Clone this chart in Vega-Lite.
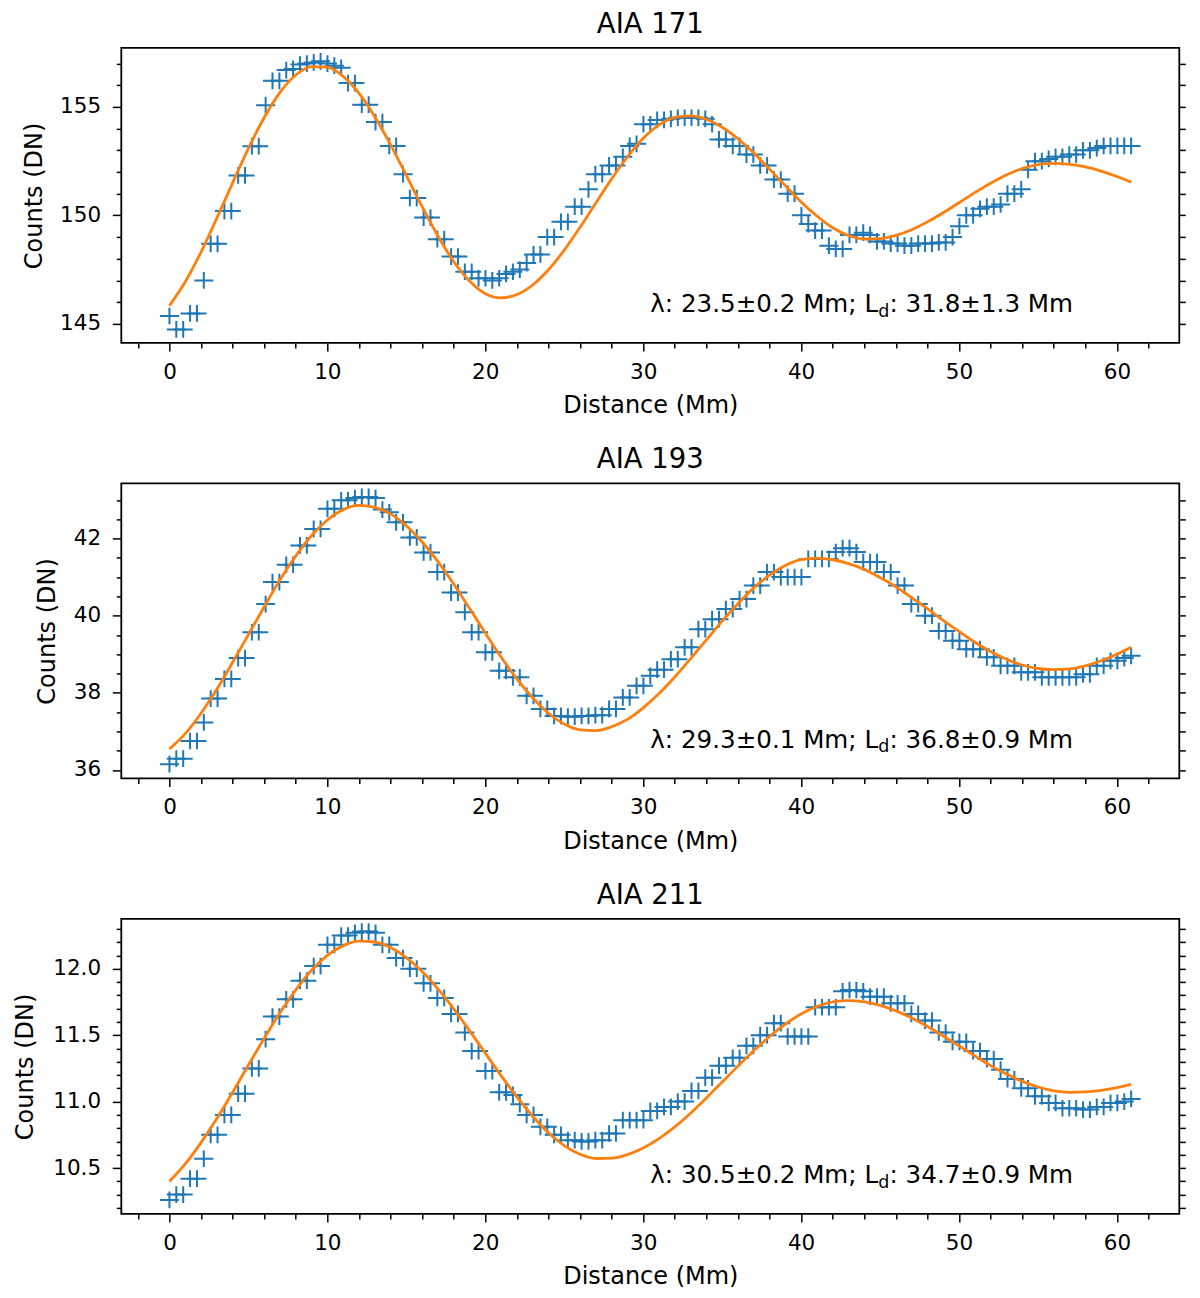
{
  "$schema": "https://vega.github.io/schema/vega-lite/v6.json",
  "padding": {"left": 12.3, "top": 8.9, "right": 10, "bottom": 10},
  "background": "white",
  "config": {
    "view": {"stroke": "black", "strokeWidth": 1.8},
    "font": "DejaVu Sans",
    "axis": {
      "grid": false, "domain": false, "tickColor": "black", "tickWidth": 1.5,
      "labelColor": "black", "titleColor": "black", "labelFont": "DejaVu Sans", "titleFont": "DejaVu Sans",
      "labelFontSize": 21.5, "titleFontSize": 24, "titleFontWeight": "normal", "labelOverlap": false, "labelFlush": false
    },
    "title": {"font": "DejaVu Sans", "fontSize": 27.5, "fontWeight": "normal", "color": "black", "frame": "group", "anchor": "middle", "baseline": "alphabetic", "offset": 9.7}
  },
  "datasets": {
    "obs": [
      {"x":0,"a":145.36,"b":36.15,"c":10.26},{"x":0.435,"a":144.74,"b":36.29,"c":10.30},{"x":0.87,"a":144.74,"b":36.29,"c":10.30},
      {"x":1.305,"a":145.48,"b":36.75,"c":10.42},{"x":1.74,"a":145.48,"b":36.75,"c":10.42},{"x":2.175,"a":147.0,"b":37.23,"c":10.57},
      {"x":2.61,"a":148.69,"b":37.85,"c":10.75},{"x":3.045,"a":148.69,"b":37.85,"c":10.75},{"x":3.48,"a":150.2,"b":38.36,"c":10.90},
      {"x":3.915,"a":150.2,"b":38.36,"c":10.90},{"x":4.35,"a":151.84,"b":38.9,"c":11.06},{"x":4.785,"a":151.84,"b":38.9,"c":11.06},
      {"x":5.22,"a":153.19,"b":39.57,"c":11.25},{"x":5.655,"a":153.19,"b":39.57,"c":11.25},{"x":6.09,"a":155.08,"b":40.3,"c":11.47},
      {"x":6.525,"a":156.2,"b":40.87,"c":11.64},{"x":6.96,"a":156.2,"b":40.87,"c":11.64},{"x":7.395,"a":156.7,"b":41.32,"c":11.77},
      {"x":7.83,"a":156.75,"b":41.32,"c":11.77},{"x":8.265,"a":156.95,"b":41.82,"c":11.91},{"x":8.7,"a":157.0,"b":41.82,"c":11.91},
      {"x":9.135,"a":157.05,"b":42.25,"c":12.02},{"x":9.57,"a":157.1,"b":42.25,"c":12.02},{"x":10.005,"a":157.0,"b":42.77,"c":12.18},
      {"x":10.44,"a":156.9,"b":42.77,"c":12.18},{"x":10.875,"a":156.8,"b":42.99,"c":12.25},{"x":11.31,"a":156.1,"b":42.99,"c":12.25},
      {"x":11.745,"a":156.1,"b":43.05,"c":12.27},{"x":12.18,"a":155.1,"b":43.08,"c":12.28},{"x":12.615,"a":155.1,"b":43.08,"c":12.28},
      {"x":13.05,"a":154.3,"b":43.05,"c":12.27},{"x":13.485,"a":154.3,"b":42.75,"c":12.18},{"x":13.92,"a":153.2,"b":42.68,"c":12.18},
      {"x":14.355,"a":153.2,"b":42.42,"c":12.08},{"x":14.79,"a":151.9,"b":42.42,"c":12.08},{"x":15.225,"a":150.8,"b":42.03,"c":12.0},
      {"x":15.66,"a":150.8,"b":42.03,"c":12.0},{"x":16.095,"a":149.9,"b":41.64,"c":11.89},{"x":16.53,"a":149.9,"b":41.64,"c":11.89},
      {"x":16.965,"a":148.9,"b":41.13,"c":11.78},{"x":17.4,"a":148.9,"b":41.13,"c":11.78},{"x":17.835,"a":148.1,"b":40.6,"c":11.66},
      {"x":18.27,"a":148.1,"b":40.6,"c":11.66},{"x":18.705,"a":147.4,"b":40.09,"c":11.52},{"x":19.14,"a":147.4,"b":39.57,"c":11.38},
      {"x":19.575,"a":147.1,"b":39.57,"c":11.38},{"x":20.01,"a":147.1,"b":39.05,"c":11.23},{"x":20.445,"a":147.0,"b":39.05,"c":11.23},
      {"x":20.88,"a":147.1,"b":38.57,"c":11.07},{"x":21.315,"a":147.3,"b":38.57,"c":11.07},{"x":21.75,"a":147.4,"b":38.4,"c":11.05},
      {"x":22.185,"a":147.5,"b":38.4,"c":10.98},{"x":22.62,"a":147.8,"b":37.92,"c":10.90},{"x":23.055,"a":148.2,"b":37.92,"c":10.90},
      {"x":23.49,"a":148.2,"b":37.58,"c":10.81},{"x":23.925,"a":149.0,"b":37.58,"c":10.81},{"x":24.36,"a":149.0,"b":37.4,"c":10.75},
      {"x":24.795,"a":149.7,"b":37.4,"c":10.75},{"x":25.23,"a":149.7,"b":37.38,"c":10.71},{"x":25.665,"a":150.4,"b":37.38,"c":10.71},
      {"x":26.1,"a":150.4,"b":37.4,"c":10.70},{"x":26.535,"a":151.2,"b":37.4,"c":10.70},{"x":26.97,"a":151.9,"b":37.42,"c":10.71},
      {"x":27.405,"a":151.9,"b":37.42,"c":10.71},{"x":27.84,"a":152.3,"b":37.58,"c":10.76},{"x":28.275,"a":152.3,"b":37.58,"c":10.76},
      {"x":28.71,"a":152.7,"b":37.88,"c":10.86},{"x":29.145,"a":153.2,"b":37.88,"c":10.86},{"x":29.58,"a":153.3,"b":38.18,"c":10.86},
      {"x":30.015,"a":154.2,"b":38.18,"c":10.86},{"x":30.45,"a":154.2,"b":38.44,"c":10.93},{"x":30.885,"a":154.4,"b":38.6,"c":10.93},
      {"x":31.32,"a":154.4,"b":38.6,"c":10.96},{"x":31.755,"a":154.45,"b":38.87,"c":10.96},{"x":32.19,"a":154.5,"b":38.87,"c":11.0},
      {"x":32.625,"a":154.5,"b":39.18,"c":11.0},{"x":33.06,"a":154.5,"b":39.18,"c":11.08},{"x":33.495,"a":154.5,"b":39.65,"c":11.08},
      {"x":33.93,"a":154.45,"b":39.65,"c":11.18},{"x":34.365,"a":154.2,"b":39.91,"c":11.18},{"x":34.8,"a":153.5,"b":39.91,"c":11.27},
      {"x":35.235,"a":153.5,"b":40.17,"c":11.27},{"x":35.67,"a":153.2,"b":40.17,"c":11.33},{"x":36.105,"a":153.2,"b":40.43,"c":11.33},
      {"x":36.54,"a":152.8,"b":40.43,"c":11.42},{"x":36.975,"a":152.8,"b":40.78,"c":11.42},{"x":37.41,"a":152.3,"b":40.78,"c":11.5},
      {"x":37.845,"a":152.3,"b":41.13,"c":11.5},{"x":38.28,"a":151.65,"b":41.13,"c":11.59},{"x":38.715,"a":151.65,"b":41.0,"c":11.59},
      {"x":39.15,"a":151.0,"b":41.0,"c":11.49},{"x":39.585,"a":151.0,"b":41.0,"c":11.49},{"x":40.02,"a":150.0,"b":41.0,"c":11.49},
      {"x":40.455,"a":149.6,"b":41.47,"c":11.49},{"x":40.89,"a":149.3,"b":41.47,"c":11.71},{"x":41.325,"a":149.3,"b":41.47,"c":11.71},
      {"x":41.76,"a":148.6,"b":41.47,"c":11.71},{"x":42.195,"a":148.45,"b":41.65,"c":11.71},{"x":42.63,"a":148.45,"b":41.75,"c":11.83},
      {"x":43.065,"a":149.1,"b":41.75,"c":11.84},{"x":43.5,"a":149.1,"b":41.65,"c":11.84},{"x":43.935,"a":149.2,"b":41.39,"c":11.83},
      {"x":44.37,"a":149.1,"b":41.39,"c":11.79},{"x":44.805,"a":148.8,"b":41.39,"c":11.79},{"x":45.24,"a":148.8,"b":41.13,"c":11.79},
      {"x":45.675,"a":148.7,"b":41.13,"c":11.74},{"x":46.11,"a":148.7,"b":40.78,"c":11.74},{"x":46.545,"a":148.6,"b":40.78,"c":11.74},
      {"x":46.98,"a":148.6,"b":40.3,"c":11.66},{"x":47.415,"a":148.7,"b":40.3,"c":11.66},{"x":47.85,"a":148.7,"b":40.0,"c":11.61},
      {"x":48.285,"a":148.7,"b":40.0,"c":11.61},{"x":48.72,"a":148.75,"b":39.6,"c":11.52},{"x":49.155,"a":148.75,"b":39.6,"c":11.52},
      {"x":49.59,"a":149.0,"b":39.35,"c":11.45},{"x":50.025,"a":149.5,"b":39.35,"c":11.45},{"x":50.46,"a":150.0,"b":39.13,"c":11.45},
      {"x":50.895,"a":150.0,"b":39.13,"c":11.38},{"x":51.33,"a":150.3,"b":39.13,"c":11.38},{"x":51.765,"a":150.4,"b":38.92,"c":11.32},
      {"x":52.2,"a":150.4,"b":38.92,"c":11.32},{"x":52.635,"a":150.5,"b":38.7,"c":11.24},{"x":53.07,"a":151.0,"b":38.7,"c":11.17},
      {"x":53.505,"a":151.0,"b":38.7,"c":11.17},{"x":53.94,"a":151.2,"b":38.53,"c":11.10},{"x":54.375,"a":152.1,"b":38.53,"c":11.10},
      {"x":54.81,"a":152.5,"b":38.53,"c":11.04},{"x":55.245,"a":152.5,"b":38.4,"c":11.04},{"x":55.68,"a":152.6,"b":38.4,"c":10.99},
      {"x":56.115,"a":152.7,"b":38.4,"c":10.99},{"x":56.55,"a":152.7,"b":38.4,"c":10.95},{"x":56.985,"a":152.8,"b":38.4,"c":10.95},
      {"x":57.42,"a":152.8,"b":38.4,"c":10.95},{"x":57.855,"a":153.0,"b":38.48,"c":10.94},{"x":58.29,"a":153.0,"b":38.48,"c":10.94},
      {"x":58.725,"a":153.1,"b":38.7,"c":10.96},{"x":59.16,"a":153.2,"b":38.7,"c":10.96},{"x":59.595,"a":153.2,"b":38.83,"c":10.99},
      {"x":60.03,"a":153.2,"b":38.83,"c":10.99},{"x":60.465,"a":153.2,"b":38.9,"c":11.0},{"x":60.9,"a":153.2,"b":38.96,"c":11.02}
    ],
    "fit": [
      {"x":0,"a":145.84,"b":36.54,"c":10.40},{"x":1,"a":146.94,"b":36.94,"c":10.531},{"x":2,"a":148.31,"b":37.47,"c":10.691},
      {"x":3,"a":149.87,"b":38.09,"c":10.872},{"x":4,"a":151.50,"b":38.79,"c":11.071},{"x":5,"a":153.09,"b":39.51,"c":11.275},
      {"x":6,"a":154.51,"b":40.23,"c":11.477},{"x":7,"a":155.67,"b":40.93,"c":11.669},{"x":8,"a":156.47,"b":41.55,"c":11.841},
      {"x":9,"a":156.86,"b":42.08,"c":11.988},{"x":10,"a":156.83,"b":42.48,"c":12.10},{"x":11,"a":156.41,"b":42.75,"c":12.174},
      {"x":12,"a":155.63,"b":42.86,"c":12.208},{"x":13,"a":154.55,"b":42.81,"c":12.201},{"x":14,"a":153.26,"b":42.64,"c":12.159},
      {"x":15,"a":151.84,"b":42.33,"c":12.084},{"x":16,"a":150.40,"b":41.91,"c":11.979},{"x":17,"a":149.05,"b":41.40,"c":11.848},
      {"x":18,"a":147.87,"b":40.82,"c":11.698},{"x":19,"a":146.97,"b":40.19,"c":11.534},{"x":20,"a":146.39,"b":39.55,"c":11.365},
      {"x":21,"a":146.20,"b":38.93,"c":11.196},{"x":22,"a":146.35,"b":38.36,"c":11.035},{"x":23,"a":146.79,"b":37.87,"c":10.89},
      {"x":24,"a":147.49,"b":37.47,"c":10.766},{"x":25,"a":148.40,"b":37.19,"c":10.669},{"x":26,"a":149.45,"b":37.04,"c":10.604},
      {"x":27,"a":150.57,"b":37.02,"c":10.572},{"x":28,"a":151.68,"b":37.12,"c":10.574},{"x":29,"a":152.69,"b":37.31,"c":10.601},
      {"x":30,"a":153.55,"b":37.61,"c":10.651},{"x":31,"a":154.17,"b":37.98,"c":10.722},{"x":32,"a":154.52,"b":38.41,"c":10.810},
      {"x":33,"a":154.59,"b":38.88,"c":10.913},{"x":34,"a":154.43,"b":39.37,"c":11.028},{"x":35,"a":154.06,"b":39.86,"c":11.147},
      {"x":36,"a":153.53,"b":40.31,"c":11.267},{"x":37,"a":152.88,"b":40.72,"c":11.383},{"x":38,"a":152.13,"b":41.05,"c":11.49},
      {"x":39,"a":151.37,"b":41.30,"c":11.583},{"x":40,"a":150.62,"b":41.45,"c":11.66},{"x":41,"a":149.97,"b":41.49,"c":11.716},
      {"x":42,"a":149.43,"b":41.45,"c":11.75},{"x":43,"a":149.07,"b":41.35,"c":11.76},{"x":44,"a":148.91,"b":41.20,"c":11.75},
      {"x":45,"a":148.93,"b":40.99,"c":11.724},{"x":46,"a":149.08,"b":40.75,"c":11.683},{"x":47,"a":149.34,"b":40.47,"c":11.629},
      {"x":48,"a":149.70,"b":40.18,"c":11.565},{"x":49,"a":150.12,"b":39.88,"c":11.494},{"x":50,"a":150.58,"b":39.59,"c":11.419},
      {"x":51,"a":151.05,"b":39.31,"c":11.344},{"x":52,"a":151.48,"b":39.07,"c":11.271},{"x":53,"a":151.86,"b":38.87,"c":11.207},
      {"x":54,"a":152.16,"b":38.72,"c":11.152},{"x":55,"a":152.34,"b":38.63,"c":11.11},{"x":56,"a":152.40,"b":38.60,"c":11.081},
      {"x":57,"a":152.35,"b":38.62,"c":11.07},{"x":58,"a":152.23,"b":38.70,"c":11.073},{"x":59,"a":152.04,"b":38.83,"c":11.085},
      {"x":60,"a":151.79,"b":39.00,"c":11.105},{"x":60.9,"a":151.53,"b":39.18,"c":11.13}
    ]
  },
  "vconcat": [
    {
      "title": "AIA 171",
      "width": 1058, "height": 295,
      "layer": [
        {
          "data": {"name": "obs"},
          "mark": {"type": "point", "shape": "M-1,0H1M0,-0.88V0.88", "filled": false, "stroke": "#1f77b4", "strokeWidth": 2, "size": 361, "opacity": 1},
          "encoding": {
            "x": {"field": "x", "type": "quantitative", "scale": {"domain": [-3.05, 63.95], "nice": false, "zero": false},
                  "axis": {"orient": "bottom", "values": [0,10,20,30,40,50,60], "tickSize": 8, "labelPadding": 27.4, "labelBaseline": "alphabetic", "title": "Distance (Mm)", "titleY": 70, "titleBaseline": "alphabetic"}},
            "y": {"field": "a", "type": "quantitative", "scale": {"domain": [144.12, 157.72], "nice": false, "zero": false},
                  "axis": {"orient": "left", "values": [145,150,155], "tickSize": 9, "labelPadding": 11.7, "title": "Counts (DN)", "titleX": -80, "titleBaseline": "alphabetic"}}
          }
        },
        {
          "data": {"name": "fit"},
          "mark": {"type": "line", "color": "#ff7f0e", "strokeWidth": 2.8, "interpolate": "monotone"},
          "encoding": {
            "x": {"field": "x", "type": "quantitative", "scale": {"domain": [-3.05, 63.95], "nice": false, "zero": false},
                  "axis": {"orient": "bottom", "values": [-2,2,4,6,8,12,14,16,18,22,24,26,28,32,34,36,38,42,44,46,48,52,54,56,58,62], "tickSize": 5, "labels": false, "title": null}},
            "y": {"field": "a", "type": "quantitative", "scale": {"domain": [144.12, 157.72], "nice": false, "zero": false},
                  "axis": {"orient": "left", "values": [144,146,147,148,149,151,152,153,154,156,157], "tickSize": 5, "labels": false, "title": null}}
          }
        },
        {
          "data": {"values": [{"x": 30.45, "y": 145.53, "t": "λ: 23.5±0.2 Mm; L"}, {"x": 45.6, "y": 145.53, "t": ": 31.8±1.3 Mm"}]},
          "mark": {"type": "text", "align": "left", "baseline": "alphabetic", "fontSize": 24.6, "font": "DejaVu Sans", "color": "black"},
          "encoding": {
            "x": {"field": "x", "type": "quantitative", "axis": null},
            "y": {"field": "y", "type": "quantitative", "axis": {"orient": "right", "values": [144,145,146,147,148,149,150,151,152,153,154,155,156,157], "tickSize": 6, "labels": false, "title": null}},
            "text": {"field": "t"}
          }
        },
        {
          "data": {"values": [{"x": 44.88, "y": 145.53, "t": "d"}]},
          "mark": {"type": "text", "align": "left", "baseline": "alphabetic", "fontSize": 17.5, "dy": 4.5, "font": "DejaVu Sans", "color": "black"},
          "encoding": {
            "x": {"field": "x", "type": "quantitative", "axis": null},
            "y": {"field": "y", "type": "quantitative", "axis": null},
            "text": {"field": "t"}
          }
        }
      ],
      "resolve": {"axis": {"x": "independent", "y": "independent"}}
    },
    {
      "title": "AIA 193",
      "width": 1058, "height": 295,
      "layer": [
        {
          "data": {"name": "obs"},
          "mark": {"type": "point", "shape": "M-1,0H1M0,-0.88V0.88", "filled": false, "stroke": "#1f77b4", "strokeWidth": 2, "size": 361, "opacity": 1},
          "encoding": {
            "x": {"field": "x", "type": "quantitative", "scale": {"domain": [-3.05, 63.95], "nice": false, "zero": false},
                  "axis": {"orient": "bottom", "values": [0,10,20,30,40,50,60], "tickSize": 8, "labelPadding": 27.4, "labelBaseline": "alphabetic", "title": "Distance (Mm)", "titleY": 70, "titleBaseline": "alphabetic"}},
            "y": {"field": "b", "type": "quantitative", "scale": {"domain": [35.78, 43.43], "nice": false, "zero": false},
                  "axis": {"orient": "left", "values": [36,38,40,42], "tickSize": 9, "labelPadding": 11.7, "title": "Counts (DN)", "titleX": -67, "titleBaseline": "alphabetic"}}
          }
        },
        {
          "data": {"name": "fit"},
          "mark": {"type": "line", "color": "#ff7f0e", "strokeWidth": 2.8, "interpolate": "monotone"},
          "encoding": {
            "x": {"field": "x", "type": "quantitative", "scale": {"domain": [-3.05, 63.95], "nice": false, "zero": false},
                  "axis": {"orient": "bottom", "values": [-2,2,4,6,8,12,14,16,18,22,24,26,28,32,34,36,38,42,44,46,48,52,54,56,58,62], "tickSize": 5, "labels": false, "title": null}},
            "y": {"field": "b", "type": "quantitative", "scale": {"domain": [35.78, 43.43], "nice": false, "zero": false},
                  "axis": {"orient": "left", "values": [36.5,37,37.5,38.5,39,39.5,40.5,41,41.5,42.5,43], "tickSize": 5, "labels": false, "title": null}}
          }
        },
        {
          "data": {"values": [{"x": 30.45, "y": 36.58, "t": "λ: 29.3±0.1 Mm; L"}, {"x": 45.6, "y": 36.58, "t": ": 36.8±0.9 Mm"}]},
          "mark": {"type": "text", "align": "left", "baseline": "alphabetic", "fontSize": 24.6, "font": "DejaVu Sans", "color": "black"},
          "encoding": {
            "x": {"field": "x", "type": "quantitative", "axis": null},
            "y": {"field": "y", "type": "quantitative", "axis": {"orient": "right", "values": [36,36.5,37,37.5,38,38.5,39,39.5,40,40.5,41,41.5,42,42.5,43], "tickSize": 6, "labels": false, "title": null}},
            "text": {"field": "t"}
          }
        },
        {
          "data": {"values": [{"x": 44.88, "y": 36.58, "t": "d"}]},
          "mark": {"type": "text", "align": "left", "baseline": "alphabetic", "fontSize": 17.5, "dy": 4.5, "font": "DejaVu Sans", "color": "black"},
          "encoding": {
            "x": {"field": "x", "type": "quantitative", "axis": null},
            "y": {"field": "y", "type": "quantitative", "axis": null},
            "text": {"field": "t"}
          }
        }
      ],
      "resolve": {"axis": {"x": "independent", "y": "independent"}}
    },
    {
      "title": "AIA 211",
      "width": 1058, "height": 295,
      "layer": [
        {
          "data": {"name": "obs"},
          "mark": {"type": "point", "shape": "M-1,0H1M0,-0.88V0.88", "filled": false, "stroke": "#1f77b4", "strokeWidth": 2, "size": 361, "opacity": 1},
          "encoding": {
            "x": {"field": "x", "type": "quantitative", "scale": {"domain": [-3.05, 63.95], "nice": false, "zero": false},
                  "axis": {"orient": "bottom", "values": [0,10,20,30,40,50,60], "tickSize": 8, "labelPadding": 27.4, "labelBaseline": "alphabetic", "title": "Distance (Mm)", "titleY": 70, "titleBaseline": "alphabetic"}},
            "y": {"field": "c", "type": "quantitative", "scale": {"domain": [10.155, 12.375], "nice": false, "zero": false},
                  "axis": {"orient": "left", "values": [10.5,11,11.5,12], "format": ".1f", "tickSize": 9, "labelPadding": 11.7, "title": "Counts (DN)", "titleX": -88.5, "titleBaseline": "alphabetic"}}
          }
        },
        {
          "data": {"name": "fit"},
          "mark": {"type": "line", "color": "#ff7f0e", "strokeWidth": 2.8, "interpolate": "monotone"},
          "encoding": {
            "x": {"field": "x", "type": "quantitative", "scale": {"domain": [-3.05, 63.95], "nice": false, "zero": false},
                  "axis": {"orient": "bottom", "values": [-2,2,4,6,8,12,14,16,18,22,24,26,28,32,34,36,38,42,44,46,48,52,54,56,58,62], "tickSize": 5, "labels": false, "title": null}},
            "y": {"field": "c", "type": "quantitative", "scale": {"domain": [10.155, 12.375], "nice": false, "zero": false},
                  "axis": {"orient": "left", "values": [10.2,10.3,10.4,10.6,10.7,10.8,10.9,11.1,11.2,11.3,11.4,11.6,11.7,11.8,11.9,12.1,12.2,12.3], "tickSize": 5, "labels": false, "title": null}}
          }
        },
        {
          "data": {"values": [{"x": 30.45, "y": 10.386, "t": "λ: 30.5±0.2 Mm; L"}, {"x": 45.6, "y": 10.386, "t": ": 34.7±0.9 Mm"}]},
          "mark": {"type": "text", "align": "left", "baseline": "alphabetic", "fontSize": 24.6, "font": "DejaVu Sans", "color": "black"},
          "encoding": {
            "x": {"field": "x", "type": "quantitative", "axis": null},
            "y": {"field": "y", "type": "quantitative", "axis": {"orient": "right", "values": [10.2,10.3,10.4,10.5,10.6,10.7,10.8,10.9,11,11.1,11.2,11.3,11.4,11.5,11.6,11.7,11.8,11.9,12,12.1,12.2,12.3], "tickSize": 6, "labels": false, "title": null}},
            "text": {"field": "t"}
          }
        },
        {
          "data": {"values": [{"x": 44.88, "y": 10.386, "t": "d"}]},
          "mark": {"type": "text", "align": "left", "baseline": "alphabetic", "fontSize": 17.5, "dy": 4.5, "font": "DejaVu Sans", "color": "black"},
          "encoding": {
            "x": {"field": "x", "type": "quantitative", "axis": null},
            "y": {"field": "y", "type": "quantitative", "axis": null},
            "text": {"field": "t"}
          }
        }
      ],
      "resolve": {"axis": {"x": "independent", "y": "independent"}}
    }
  ],
  "spacing": 140.5,
  "bounds": "flush"
}
